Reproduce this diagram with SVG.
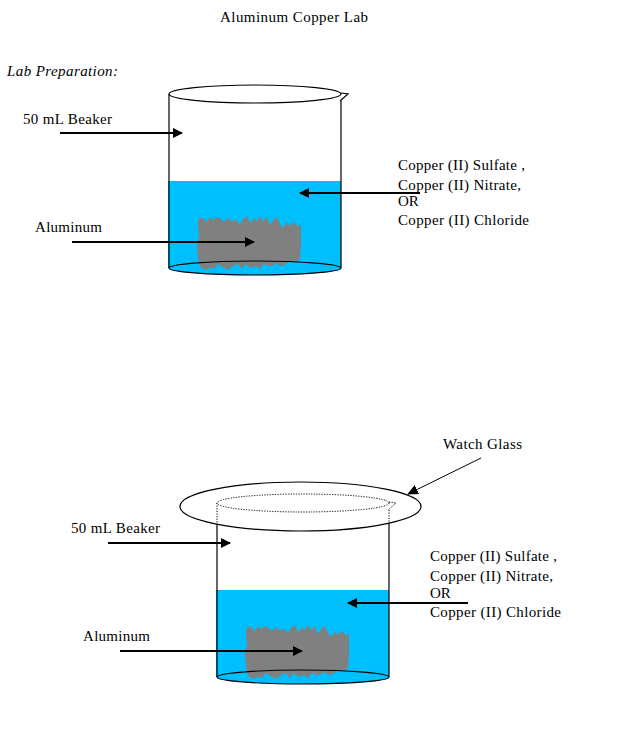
<svg xmlns="http://www.w3.org/2000/svg" xmlns:xlink="http://www.w3.org/1999/xlink" width="625" height="741" viewBox="0 0 625 741">
<style>
text{font-family:"Liberation Serif","Times New Roman",serif;font-size:15px;fill:#000}
.it{font-style:italic}
.ln{fill:none;stroke:#000;stroke-width:1.2}
.dot{fill:none;stroke:#000;stroke-width:1;stroke-dasharray:1.2 1.4}
.water{fill:#00BFFF;stroke:none}
.al{fill:#808080;stroke:none}
.arr{fill:none;stroke:#000;stroke-width:2.2;marker-end:url(#ah)}
.arr2{fill:none;stroke:#000;stroke-width:1;marker-end:url(#ah2)}
</style>
<defs>
<marker id="ah" markerUnits="userSpaceOnUse" markerWidth="10" markerHeight="10" refX="9" refY="5" orient="auto" viewBox="0 0 10 10">
<path d="M0,0 L10,5 L0,10 z" fill="#000"/>
</marker>
<marker id="ah2" markerUnits="userSpaceOnUse" markerWidth="11" markerHeight="10" refX="10" refY="5" orient="auto" viewBox="0 0 11 10">
<path d="M0,0 L11,5 L0,10 z" fill="#000"/>
</marker>
<path id="blob" d="M198,222 L199,218 L203,218 L207,222 L210,217 L214,220 L217,217 L221,219 L224,222 L228,218 L232,221 L236,220 L240,224 L243,219 L247,216 L250,223 L254,218 L257,221 L260,216 L263,221 L267,217 L270,225 L274,219 L277,217 L280,224 L283,228 L287,222 L290,226 L293,222 L296,224 L298,227 L301,224 L301,245 L300,258 L297,262 L292,261 L288,262 L285,265 L280,266 L276,263 L272,266 L268,266 L264,264 L260,269 L256,266 L250,268 L246,264 L242,269 L238,264 L233,266 L228,270 L222,267 L218,264 L214,269 L210,268 L205,270 L200,267 L198,258 L197,245 L199,235 L198,228 Z"/>
</defs>
<rect width="625" height="741" fill="#fff"/>

<g id="title">
<text x="220" y="22" textLength="148" lengthAdjust="spacing">Aluminum Copper Lab</text>
<text class="it" x="7" y="76" textLength="111" lengthAdjust="spacing">Lab Preparation:</text>
</g>

<g id="beaker1">
<rect class="water" x="168" y="181" width="173" height="87"/>
<ellipse class="water" cx="255" cy="268" rx="86" ry="7"/>
<use xlink:href="#blob" class="al"/>
<ellipse class="ln" cx="255" cy="268" rx="86" ry="7"/>
<ellipse class="ln" cx="255" cy="94" rx="86" ry="9"/>
<path class="ln" d="M341,93 L348,94 L340,101"/>
<line class="ln" x1="169" y1="94" x2="169" y2="268"/>
<line class="ln" x1="341" y1="101" x2="341" y2="268"/>
</g>

<g id="beaker1-labels">
<text x="23" y="124" textLength="89" lengthAdjust="spacing">50 mL Beaker</text>
<text x="35" y="232" textLength="67" lengthAdjust="spacing">Aluminum</text>
<text x="398" y="170" textLength="127" lengthAdjust="spacing">Copper (II) Sulfate ,</text>
<text x="398" y="190" textLength="123" lengthAdjust="spacing">Copper (II) Nitrate,</text>
<text x="398" y="206">OR</text>
<text x="398" y="225" textLength="131" lengthAdjust="spacing">Copper (II) Chloride</text>
</g>

<g id="beaker2">
<rect class="water" x="216" y="590" width="173" height="87"/>
<ellipse class="water" cx="303" cy="677" rx="86" ry="7"/>
<use xlink:href="#blob" class="al" transform="translate(48,409)"/>
<ellipse class="ln" cx="303" cy="677" rx="86" ry="7"/>
<line class="ln" x1="217" y1="524" x2="217" y2="677"/>
<line class="ln" x1="389" y1="523" x2="389" y2="677"/>
</g>

<g id="watch-glass">
<ellipse class="ln" cx="300.5" cy="506.5" rx="120.5" ry="24.5"/>
<ellipse class="dot" cx="303" cy="503" rx="86" ry="9"/>
<path class="dot" d="M389,502 L396,503 L388,510"/>
<line class="dot" x1="217" y1="503" x2="217" y2="524"/>
<line class="dot" x1="389" y1="510" x2="389" y2="523"/>
</g>

<g id="beaker2-labels">
<text x="443" y="449" textLength="79" lengthAdjust="spacing">Watch Glass</text>
<text x="71" y="533" textLength="89" lengthAdjust="spacing">50 mL Beaker</text>
<text x="83" y="641" textLength="67" lengthAdjust="spacing">Aluminum</text>
<text x="430" y="561" textLength="127" lengthAdjust="spacing">Copper (II) Sulfate ,</text>
<text x="430" y="581" textLength="123" lengthAdjust="spacing">Copper (II) Nitrate,</text>
<text x="430" y="598">OR</text>
<text x="430" y="617" textLength="131" lengthAdjust="spacing">Copper (II) Chloride</text>
</g>

<g id="connectors">
<line class="arr" x1="60" y1="133" x2="182" y2="133"/>
<line class="arr" x1="420" y1="193" x2="300" y2="193"/>
<line class="arr" x1="72" y1="242" x2="254" y2="242"/>
<line class="arr" x1="108" y1="543" x2="230" y2="543"/>
<line class="arr" x1="468" y1="603" x2="348" y2="603"/>
<line class="arr" x1="120" y1="651" x2="302" y2="651"/>
<line class="arr2" x1="481" y1="458" x2="408" y2="494"/>
</g>
</svg>
